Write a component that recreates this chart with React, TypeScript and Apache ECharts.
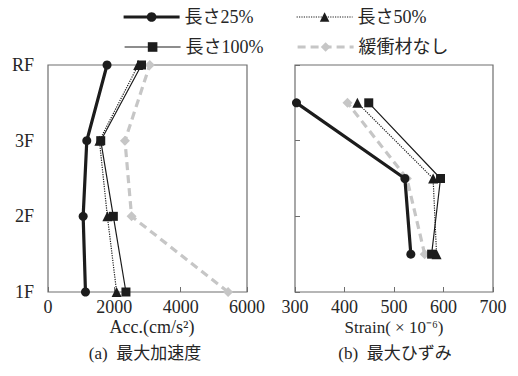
import React, { useEffect, useRef } from "react";
import * as echarts from "echarts";

const floors = ["1F", "2F", "3F", "RF"];
const floorLevels = [0, 1, 2, 3];
// Max acceleration (cm/s^2), order 1F, 2F, 3F, RF
const accLen25 = [1130, 1060, 1170, 1780];
const accLen50 = [2070, 1790, 1550, 2720];
const accLen100 = [2350, 1970, 1590, 2820];
const accNone = [5430, 2520, 2320, 3070];
// Max strain (x10^-6) at story mid-heights (1st, 2nd, 3rd story)
const strainLevels = [0.5, 1.5, 2.5];
const strainLen25 = [534, 522, 303];
const strainLen50 = [586, 579, 426];
const strainLen100 = [576, 594, 449];
const strainNone = [562, 526, 406];

const names = ["長さ25%", "長さ50%", "長さ100%", "緩衝材なし"];

const FONT = "'Liberation Serif', 'Noto Sans CJK JP', serif";
const TXT = "#262626";

export default function App() {
  const ref = useRef<HTMLDivElement>(null);
  useEffect(() => {
    if (!ref.current) return;
    const chart = echarts.init(ref.current, undefined, { renderer: "svg" });
    const pair = (xs: number[], ys: number[]) => xs.map((v, i) => [v, ys[i]]);
    const styles: any[] = [
      { color: "#1c1c1c", width: 3.2, type: "solid", symbol: "circle", size: 9 },
      { color: "#1c1c1c", width: 1.2, type: "dotted", symbol: "triangle", size: 10 },
      { color: "#1c1c1c", width: 1.2, type: "solid", symbol: "rect", size: 9 },
      { color: "#c6c6c6", width: 3.2, type: [8, 5], symbol: "diamond", size: 10 },
    ];
    const accData = [accLen25, accLen50, accLen100, accNone];
    const strainData = [strainLen25, strainLen50, strainLen100, strainNone];
    const series: any[] = [];
    [0, 1].forEach((g) => {
      styles.forEach((s, i) => {
        series.push({
          type: "line",
          name: names[i],
          xAxisIndex: g,
          yAxisIndex: g,
          data: g === 0 ? pair(accData[i], floorLevels) : pair(strainData[i], strainLevels),
          symbol: s.symbol,
          symbolSize: s.size,
          itemStyle: { color: s.color },
          lineStyle: { color: s.color, width: s.width, type: s.type },
          z: 10 - i,
        });
      });
    });
    const legendPos = [
      { left: 122, top: 8 },
      { left: 296, top: 8 },
      { left: 124, top: 38 },
      { left: 296, top: 38 },
    ];
    const frame = { show: true, borderColor: "#6e6e6e", borderWidth: 1.2 };
    const xAxisCommon = {
      type: "value",
      axisLine: { show: false },
      splitLine: { show: false },
      axisTick: { show: true, inside: true, length: 5, lineStyle: { color: "#6e6e6e" } },
      axisLabel: {
        color: TXT,
        fontFamily: FONT,
        fontSize: 18,
        margin: 6,
        formatter: (v: number) => String(v),
      },
    };
    chart.setOption({
      animation: false,
      backgroundColor: "#fff",
      textStyle: { fontFamily: FONT },
      legend: legendPos.map((p, i) => ({
        data: [
          {
            name: names[i],
            lineStyle: { width: styles[i].width, type: styles[i].type, color: styles[i].color },
          },
        ],
        left: p.left,
        top: p.top,
        padding: 0,
        itemWidth: 56,
        itemHeight: 12,
        itemGap: 0,
        textStyle: { color: TXT, fontFamily: FONT, fontSize: 18 },
      })),
      grid: [
        { left: 48, top: 65, width: 199, height: 227, ...frame },
        { left: 295, top: 65, width: 198, height: 227, ...frame },
      ],
      xAxis: [
        { ...xAxisCommon, gridIndex: 0, min: 0, max: 6000, interval: 2000 },
        { ...xAxisCommon, gridIndex: 1, min: 300, max: 700, interval: 100 },
      ],
      yAxis: [
        {
          type: "value",
          gridIndex: 0,
          min: 0,
          max: 3,
          interval: 1,
          axisLine: { show: false },
          splitLine: { show: false },
          axisTick: { show: false },
          axisLabel: {
            color: TXT,
            fontFamily: FONT,
            fontSize: 18,
            margin: 14,
            formatter: (v: number) => floors[Math.round(v)] ?? "",
          },
        },
        {
          type: "value",
          gridIndex: 1,
          min: 0,
          max: 3,
          interval: 1,
          axisLine: { show: false },
          splitLine: { show: false },
          axisTick: { show: true, inside: true, length: 5, lineStyle: { color: "#6e6e6e" } },
          axisLabel: { show: false },
        },
      ],
      graphic: [
        {
          type: "text",
          x: 152,
          y: 327,
          style: {
            text: "Acc.(cm/s²)",
            fill: TXT,
            font: `18px ${FONT}`,
            textAlign: "center",
            textVerticalAlign: "middle",
          },
        },
        {
          type: "text",
          x: 394,
          y: 327,
          style: {
            text: "Strain( × 10⁻⁶)",
            fill: TXT,
            font: `17px ${FONT}`,
            textAlign: "center",
            textVerticalAlign: "middle",
          },
        },
        {
          type: "text",
          x: 145,
          y: 353,
          style: {
            text: "(a)  最大加速度",
            fill: TXT,
            font: `17px ${FONT}`,
            textAlign: "center",
            textVerticalAlign: "middle",
          },
        },
        {
          type: "text",
          x: 395,
          y: 353,
          style: {
            text: "(b)  最大ひずみ",
            fill: TXT,
            font: `17px ${FONT}`,
            textAlign: "center",
            textVerticalAlign: "middle",
          },
        },
      ],
      series,
    });
    return () => chart.dispose();
  }, []);
  return <div ref={ref} style={{ width: 518, height: 376, position: "absolute", left: 0, top: 0 }} />;
}
